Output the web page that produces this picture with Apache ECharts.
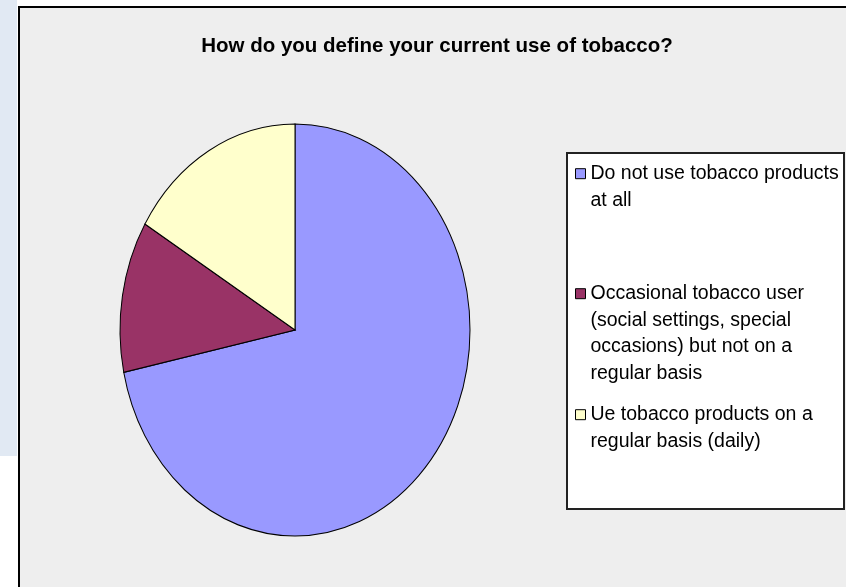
<!DOCTYPE html>
<html>
<head>
<meta charset="utf-8">
<script src="https://cdn.jsdelivr.net/npm/echarts@6/dist/echarts.min.js"></script>
<style>
html,body{margin:0;padding:0;background:#fff;}
#chart{width:846px;height:587px;}
</style>
</head>
<body>
<div id="chart"></div>
<script>
// Data
const categories = [
  'Do not use tobacco products\nat all',
  'Occasional tobacco user\n(social settings, special\noccasions) but not on a\nregular basis',
  'Ue tobacco products on a\nregular basis (daily)'
];
const values = [71.7, 11.9, 16.4];
const colors = ['#9999FF', '#993366', '#FFFFCC'];
const titleText = 'How do you define your current use of tobacco?';

// Layout
const CX = 295, CY = 330, RX = 175, RY = 206;
const LINE_H = 26.7;
const MARK = 10;
const legendFirstLineCenters = [173.7, 293.7, 414.7];

const total = values.reduce((a, b) => a + b, 0);
function cumBefore(i) { let s = 0; for (let k = 0; k < i; k++) s += values[k]; return s; }

const series = categories.map((name, i) => ({
  type: 'custom',
  name: name,
  coordinateSystem: 'none',
  silent: true,
  itemStyle: { color: colors[i] },
  data: [values[i]],
  renderItem: function (params, api) {
    const v = api.value(0);
    const s = cumBefore(i) / total;
    const e = s + v / total;
    return {
      type: 'sector',
      x: CX, y: CY,
      scaleX: 1, scaleY: RY / RX,
      shape: {
        cx: 0, cy: 0, r0: 0, r: RX,
        startAngle: -Math.PI / 2 + 2 * Math.PI * s,
        endAngle: -Math.PI / 2 + 2 * Math.PI * e,
        clockwise: true
      },
      style: { fill: colors[i], stroke: '#000', lineWidth: 1, strokeNoScale: true }
    };
  }
}));

// Legend marker aligned with the first text line: a square at the top of a taller (invisible) box
const legends = categories.map((name, i) => {
  const n = name.split('\n').length;
  const h = MARK + (n - 1) * LINE_H;
  return {
    data: [name],
    orient: 'vertical',
    left: 575,
    top: legendFirstLineCenters[i] - LINE_H / 2,
    padding: 0,
    itemWidth: MARK,
    itemHeight: h,
    itemGap: 0,
    symbolKeepAspect: false,
    icon: 'path://M0,0H' + MARK + 'V' + MARK + 'H0Z M0,' + h.toFixed(2),
    selectedMode: false,
    itemStyle: { borderColor: '#000', borderWidth: 1 },
    textStyle: {
      fontFamily: 'Liberation Sans, Arial, sans-serif',
      fontSize: 19.5,
      color: '#000',
      lineHeight: LINE_H
    }
  };
});

const chart = echarts.init(document.getElementById('chart'));
chart.setOption({
  animation: false,
  backgroundColor: '#ffffff',
  graphic: [
    { type: 'rect', z: -10, shape: { x: 0, y: 0, width: 17, height: 456 }, style: { fill: '#E1E9F3' } },
    { type: 'rect', z: -10, shape: { x: 19, y: 7, width: 840, height: 600 }, style: { fill: '#EEEEEE', stroke: '#000', lineWidth: 2 } },
    { type: 'rect', z: -5, shape: { x: 567, y: 153, width: 277, height: 356 }, style: { fill: '#FFFFFF', stroke: '#222', lineWidth: 2 } }
  ],
  title: {
    text: titleText,
    left: 437,
    top: 36,
    textAlign: 'center',
    padding: 0,
    textStyle: {
      fontFamily: 'Liberation Sans, Arial, sans-serif',
      fontWeight: 'bold',
      fontSize: 20.5,
      lineHeight: 21,
      color: '#000'
    }
  },
  legend: legends,
  series: series
});
</script>
</body>
</html>
